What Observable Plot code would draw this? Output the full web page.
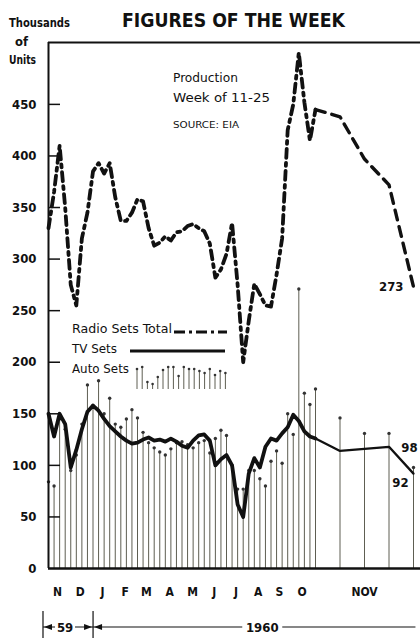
<!DOCTYPE html>
<html><head><meta charset="utf-8">
<script src="https://cdn.jsdelivr.net/npm/d3@7"></script>
<script src="https://cdn.jsdelivr.net/npm/@observablehq/plot@0.6"></script>
<style>
body{margin:0;background:#fff;}
#chart svg{display:block;}
</style></head><body><div id="chart"></div>
<script>
// Weekly production, thousands of units (Nov 1959 – Oct 1960, weekly; then Nov 1960 weeks)
const radioDense = [330,365,410,350,275,255,320,345,385,393,383,393,360,337,337,345,358,356,330,313,316,322,318,326,327,332,334,330,327,315,282,290,305,335,275,200,240,276,266,255,254,285,320,425,450,500,452,415,445];
const tvDense = [150,128,150,140,98,115,135,152,158,153,145,138,133,128,124,121,122,125,127,124,125,123,126,123,119,117,124,129,130,124,100,106,110,100,62,50,92,107,98,118,126,124,131,137,149,143,133,128,126];
const autoDense = [84,80,145,135,95,110,140,178,158,182,150,165,140,137,145,154,146,132,122,117,113,110,116,122,123,120,117,122,124,112,126,134,129,100,77,77,95,95,87,80,104,114,102,150,130,271,170,159,174];
const radioNov = [438,397,372,273];
const tvNov = [114,116,118,92];
const autoNov = [146,131,131,98];

const yTicks = [0,50,100,150,200,250,300,350,400,450];
const monthTickWeeks = [1.6,5.7,9.7,13.8,17.6,21.8,25.9,29.8,33.7,37.7,41.5,45.6,50];
const monthLabels = ["N","D","J","F","M","A","M","J","J","A","S","O","NOV"];
const yearSpans = [{label:"59", start:-0.9, end:8.1}, {label:"1960", start:8.1, end:52.1}];
const legendStemHeights = [20,22,7,5,12,19,22,22,13,22,20,20,18,16,20,14,18,16];

const nDense = radioDense.length;
const mk = (dense, nov) => dense.map((v,i)=>({week:i, value:v})).concat(nov.map((v,j)=>({week:nDense+j, value:v})));
const radio = mk(radioDense, radioNov);
const tv = mk(tvDense, tvNov);
const auto = mk(autoDense, autoNov);
const lastDense = nDense - 1;
const labelMap = new Map(monthTickWeeks.map((w,i)=>[w, monthLabels[i]]));
const FONT = "'DejaVu Sans Condensed','Liberation Sans Narrow','DejaVu Sans',sans-serif";

const plot = Plot.plot({
  width: 420, height: 638,
  marginTop: 42, marginBottom: 70, marginLeft: 48, marginRight: 0,
  style: {background: "#fff", fontFamily: FONT, color: "#111", overflow: "visible"},
  x: {type: "linear", domain: [0, lastDense, lastDense + radioNov.length], range: [48, 315, 413]},
  y: {domain: [0, 510], range: [568, 42]},
  marks: [
    Plot.axisY(yTicks, {anchor: "left", tickSize: 0, tickPadding: 12, label: null, fontSize: 13, fontWeight: "bold"}),
    Plot.axisX(monthTickWeeks, {anchor: "bottom", tickSize: 0, tickPadding: 19, label: null, fontSize: 12, fontWeight: "bold", tickFormat: d => labelMap.get(d)}),
    Plot.ruleX(auto, {x: "week", y1: 0, y2: "value", stroke: "#5e5e52", strokeWidth: 1}),
    Plot.dot(auto, {x: "week", y: "value", r: 1.7, fill: "#333", stroke: "none"}),
    Plot.ruleY(yTicks.filter(d => d > 0), {stroke: "#111", strokeWidth: 1.5, insetRight: 360}),
    Plot.ruleY([510], {stroke: "#111", strokeWidth: 2}),
    Plot.ruleY([0], {stroke: "#111", strokeWidth: 2.5}),
    Plot.ruleX([0], {stroke: "#111", strokeWidth: 2}),
    Plot.line(tv.filter(d => d.week <= lastDense), {x: "week", y: "value", stroke: "#111", strokeWidth: 3.8, strokeLinejoin: "round"}),
    Plot.line(tv.filter(d => d.week >= lastDense), {x: "week", y: "value", stroke: "#111", strokeWidth: 2.3}),
    Plot.line(radio.filter(d => d.week <= lastDense), {x: "week", y: "value", stroke: "#111", strokeWidth: 3.8, strokeDasharray: "9,5,3,5", strokeLinejoin: "round"}),
    Plot.line(radio.filter(d => d.week >= lastDense), {x: "week", y: "value", stroke: "#111", strokeWidth: 3.4, strokeDasharray: "10,7"}),
    Plot.text(radio.slice(-1), {x: "week", y: "value", text: d => String(d.value), textAnchor: "end", dx: -10, fontSize: 13, fontWeight: "bold", fill: "#111"}),
    Plot.text(auto.slice(-1), {x: "week", y: "value", text: d => String(d.value), dx: -4, dy: -20, fontSize: 13, fontWeight: "bold", fill: "#111"}),
    Plot.text(tv.slice(-1), {x: "week", y: "value", text: d => String(d.value), dx: -13, dy: 9, fontSize: 13, fontWeight: "bold", fill: "#111"})
  ]
});
document.getElementById("chart").appendChild(plot);

const svg = d3.select(plot);
const xs = plot.scale("x");
function addText(str, x, y, size, weight, len, anchor) {
  const t = svg.append("text").attr("x", x).attr("y", y).attr("font-size", size)
    .attr("font-weight", weight).attr("font-family", FONT).attr("fill", "#111")
    .attr("text-anchor", anchor || "start").text(str);
  if (len) t.attr("textLength", len).attr("lengthAdjust", "spacingAndGlyphs");
  return t;
}
// Title and unit label
addText("FIGURES OF THE WEEK", 122, 27, 20, "bold", 223);
addText("Thousands", 9, 27, 12, "bold", 61);
addText("of", 15, 46, 12, "bold", 13);
addText("Units", 9, 64, 12, "bold", 27);
// Annotation
addText("Production", 173, 82, 13, "normal", 65);
addText("Week of 11-25", 173, 102, 13, "normal", 97);
addText("SOURCE: EIA", 173, 128, 9, "normal", 66);
// Legend
addText("Radio Sets Total", 72, 333, 13, "normal", 100);
svg.append("line").attr("x1",174).attr("x2",227).attr("y1",332).attr("y2",332)
  .attr("stroke","#111").attr("stroke-width",3.2).attr("stroke-dasharray","11,4,3,4");
addText("TV Sets", 72, 353, 13, "normal", 45);
svg.append("line").attr("x1",130).attr("x2",225).attr("y1",351).attr("y2",351)
  .attr("stroke","#111").attr("stroke-width",3.2);
addText("Auto Sets", 72, 373, 13, "normal", 57);
legendStemHeights.forEach((h, i) => {
  const x = 137 + i * 5.2;
  svg.append("line").attr("x1",x).attr("x2",x).attr("y1",389).attr("y2",389 - h)
    .attr("stroke","#5e5e52").attr("stroke-width",1);
  svg.append("circle").attr("cx",x).attr("cy",389 - h).attr("r",1.3).attr("fill","#333");
});
// Year bracket
const by = 627;
yearSpans.forEach((s, k) => {
  const x0 = xs.apply(s.start), x1 = xs.apply(s.end);
  svg.append("line").attr("x1",x0).attr("x2",x1).attr("y1",by).attr("y2",by).attr("stroke","#111").attr("stroke-width",1.2);
  svg.append("line").attr("x1",x0).attr("x2",x0).attr("y1",611).attr("y2",638).attr("stroke","#111").attr("stroke-width",1.2);
  svg.append("path").attr("d",`M${x0+1},${by}L${x0+9},${by-3}L${x0+9},${by+3}Z`).attr("fill","#111");
  if (k === 0) svg.append("path").attr("d",`M${x1-1},${by}L${x1-9},${by-3}L${x1-9},${by+3}Z`).attr("fill","#111");
  const cx = k === 0 ? (x0 + x1) / 2 - 3 : (x0 + x1) / 2 + 8;
  const w = k === 0 ? 20 : 40;
  svg.append("rect").attr("x", cx - w/2).attr("y", by - 8).attr("width", w).attr("height", 16).attr("fill", "#fff");
  addText(s.label, cx, by + 5, 13, "bold", null, "middle");
});
</script></body></html>
